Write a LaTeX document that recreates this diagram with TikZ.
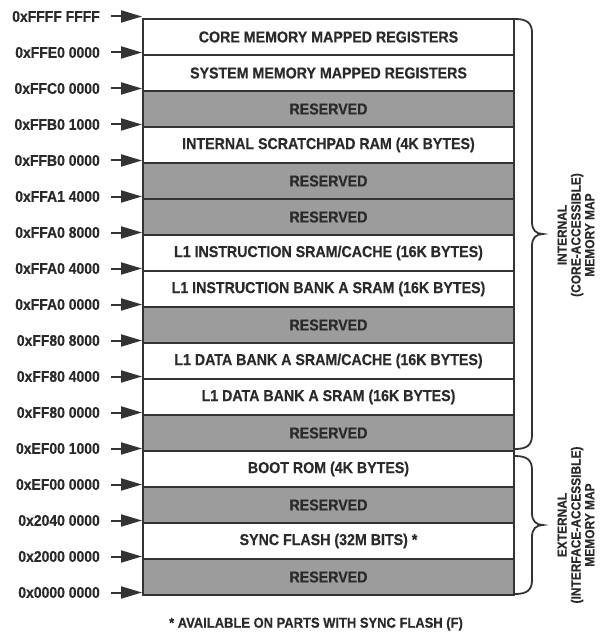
\documentclass[tikz,border=0pt]{standalone}
\usepackage{fontspec}
\setmainfont{Liberation Sans}
\newfontfamily\condfont{Liberation Sans}[FakeStretch=0.9, BoldFeatures={FakeBold=0.35}]
\usetikzlibrary{arrows.meta}
\definecolor{ink}{HTML}{333333}
\definecolor{txt}{HTML}{2A2A2A}
\definecolor{resgray}{HTML}{9C9C9C}
\begin{document}
\begin{tikzpicture}[x=1pt,y=-1pt,
  rowbox/.style={draw=ink, line width=2pt, minimum width=371pt, minimum height=36pt, inner sep=0pt,
    font=\condfont\fontsize{15.8}{17}\selectfont\bfseries, text=txt},
  freebox/.style={rowbox, fill=white},
  resbox/.style={rowbox, fill=resgray},
  addr/.style={anchor=east, inner sep=0pt, font=\condfont\fontsize{15.5}{17}\selectfont\bfseries, text=txt},
  ptr/.style={draw=ink, line width=2pt, -{Triangle[length=21pt,width=12pt]}},
  bracepath/.style={draw=ink, line width=1.8pt},
  sidelbl/.style={rotate=90, align=center, inner sep=0pt, font=\condfont\fontsize{13.3}{13.8}\selectfont\bfseries, text=txt},
  note/.style={inner sep=0pt, font=\condfont\fontsize{14.4}{16}\selectfont\bfseries, text=txt}]
\useasboundingbox (0,0) rectangle (608,639);

\node[freebox] (r1)  at (328.5, 37)  {CORE MEMORY MAPPED REGISTERS};
\node[freebox] (r2)  at (328.5, 73)  {SYSTEM MEMORY MAPPED REGISTERS};
\node[resbox]  (r3)  at (328.5, 109) {RESERVED};
\node[freebox] (r4)  at (328.5, 145) {INTERNAL SCRATCHPAD RAM (4K BYTES)};
\node[resbox]  (r5)  at (328.5, 181) {RESERVED};
\node[resbox]  (r6)  at (328.5, 217) {RESERVED};
\node[freebox] (r7)  at (328.5, 253) {L1 INSTRUCTION SRAM/CACHE (16K BYTES)};
\node[freebox] (r8)  at (328.5, 289) {L1 INSTRUCTION BANK A SRAM (16K BYTES)};
\node[resbox]  (r9)  at (328.5, 325) {RESERVED};
\node[freebox] (r10) at (328.5, 361) {L1 DATA BANK A SRAM/CACHE (16K BYTES)};
\node[freebox] (r11) at (328.5, 397) {L1 DATA BANK A SRAM (16K BYTES)};
\node[resbox]  (r12) at (328.5, 433) {RESERVED};
\node[freebox] (r13) at (328.5, 469) {BOOT ROM (4K BYTES)};
\node[resbox]  (r14) at (328.5, 505) {RESERVED};
\node[freebox] (r15) at (328.5, 541) {SYNC FLASH (32M BITS) *};
\node[resbox]  (r16) at (328.5, 577) {RESERVED};

\foreach \j/\a in {0/0xFFFF FFFF, 1/0xFFE0 0000, 2/0xFFC0 0000, 3/0xFFB0 1000,
  4/0xFFB0 0000, 5/0xFFA1 4000, 6/0xFFA0 8000, 7/0xFFA0 4000, 8/0xFFA0 0000,
  9/0xFF80 8000, 10/0xFF80 4000, 11/0xFF80 0000, 12/0xEF00 1000, 13/0xEF00 0000,
  14/0x2040 0000, 15/0x2000 0000, 16/0x0000 0000}{
  \node[addr] (a\j) at (100, {16.5+36*\j}) {\a};
  \coordinate (p\j) at (142, {16.5+36*\j});
  \draw[ptr] ([xshift=11pt]a\j.east) -- (p\j);
}

\draw[bracepath] (515,19) .. controls (527,19) and (532,23) .. (532,33) -- (532,222)
  .. controls (532,230) and (536,234) .. (543,234)
  .. controls (536,234) and (532,238) .. (532,246) -- (532,435)
  .. controls (532,445) and (527,449) .. (515,449);
\draw[bracepath] (515,456) .. controls (527,456) and (532,460) .. (532,470) -- (532,513)
  .. controls (532,521) and (536,525) .. (543,525)
  .. controls (536,525) and (532,529) .. (532,537) -- (532,580)
  .. controls (532,590) and (527,594) .. (515,594);

\node[sidelbl] (intl) at (576,235) {INTERNAL\\(CORE-ACCESSIBLE)\\MEMORY MAP};
\node[sidelbl] (extl) at (576,525) {EXTERNAL\\(INTERFACE-ACCESSIBLE)\\MEMORY MAP};

\node[note] (fn) at (316,624) {* AVAILABLE ON PARTS WITH SYNC FLASH (F)};
\end{tikzpicture}
\end{document}
